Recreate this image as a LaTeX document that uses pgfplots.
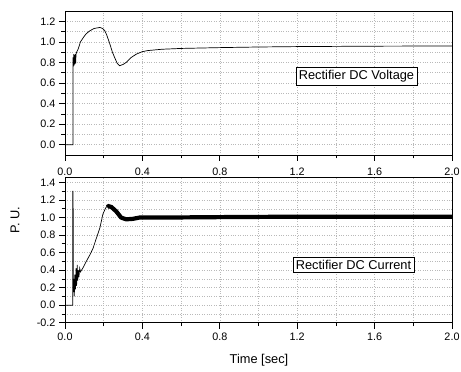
\documentclass[border=0pt]{standalone}
\usepackage{pgfplots}
\pgfplotsset{compat=1.18}
\usepackage{fontspec}
\setmainfont{Liberation Sans}
\begin{document}
\begin{tikzpicture}
\useasboundingbox (0pt,0pt) rectangle (461pt,372pt);
\pgfplotsset{
  myax/.style={
    scale only axis, width=387pt,
    xmin=0, xmax=2.0,
    xtick={0,0.4,...,2.0}, minor x tick num=1,
    tick pos=left, tick align=outside,
    major tick length=6pt, minor tick length=3.5pt,
    axis line style={line width=0.9pt},
    every tick/.style={black, line width=0.7pt},
    grid=both,
    major grid style={dotted, gray!55, line width=0.6pt},
    minor grid style={dotted, gray!55, line width=0.6pt},
    /pgf/number format/assume math mode=true,
    /pgf/number format/fixed, /pgf/number format/fixed zerofill,
    /pgf/number format/precision=1,
    tick label style={font=\fontsize{10.8}{12}\selectfont},
  }
}
\begin{axis}[myax, at={(65pt,217pt)}, anchor=south west, height=144pt,
  ymin=-0.1, ymax=1.3, ytick={0,0.2,...,1.21}, minor y tick num=1,
  xticklabel style={yshift=-3pt}]
\addplot[black, line width=0.7pt] coordinates {
(0,0)(0.041,0)(0.041,0.85)(0.043,0.76)(0.045,0.88)(0.047,0.77)(0.049,0.87)(0.051,0.78)(0.053,0.88)(0.055,0.79)(0.057,0.88)(0.06,0.9)(0.068,0.93)(0.08,1.0)(0.094,1.04)(0.11,1.08)(0.128,1.107)(0.15,1.13)(0.18,1.14)(0.195,1.13)(0.205,1.11)(0.215,1.07)(0.23,0.99)(0.245,0.9)(0.256,0.85)(0.27,0.79)(0.282,0.768)(0.3,0.78)(0.316,0.80)(0.34,0.845)(0.368,0.88)(0.4,0.905)(0.427,0.915)(0.5,0.928)(0.6,0.936)(0.8,0.944)(1.0,0.95)(1.2,0.954)(1.6,0.958)(2.0,0.96)
};
\end{axis}
\begin{axis}[myax, at={(65pt,49.3pt)}, anchor=south west, height=145pt,
  ymin=-0.2, ymax=1.455, ytick={-0.2,0,...,1.41}, minor y tick num=1,
  xticklabel style={yshift=-0.5pt}]
\addplot[black, line width=0.7pt] coordinates {
(0,0)(0.04,0)(0.04,1.3)(0.042,1.3)(0.042,1.1)(0.043,1.1)(0.043,0.15)(0.046,0.3)(0.048,0.1)(0.051,0.35)(0.054,0.18)(0.057,0.42)(0.06,0.22)(0.063,0.46)(0.066,0.28)(0.069,0.4)(0.072,0.32)(0.076,0.42)(0.08,0.38)(0.094,0.43)(0.11,0.5)(0.13,0.58)(0.145,0.65)(0.16,0.75)(0.18,0.88)(0.196,1.04)(0.21,1.11)(0.222,1.14)
};
\addplot[black, line width=4.2pt] coordinates {
(0.218,1.12)(0.225,1.13)(0.24,1.12)(0.265,1.07)(0.29,1.0)(0.316,0.98)(0.35,0.985)(0.385,1.0)(0.5,1.0)(0.8,1.005)(1.2,1.01)(1.6,1.01)(2.0,1.01)
};
\end{axis}
\node[draw, line width=0.6pt, fill=white, inner sep=3pt, font=\fontsize{12.8}{14}\selectfont] at (356.5pt,296pt) {Rectifier DC Voltage};
\node[draw, line width=0.6pt, fill=white, inner sep=3pt, font=\fontsize{12.8}{14}\selectfont] at (353.5pt,107pt) {Rectifier DC Current};
\node[rotate=90, font=\fontsize{12.8}{14}\selectfont] at (15pt,152pt) {P. U.};
\node[font=\fontsize{12.8}{14}\selectfont] at (259pt,12pt) {Time [sec]};
\end{tikzpicture}
\end{document}
